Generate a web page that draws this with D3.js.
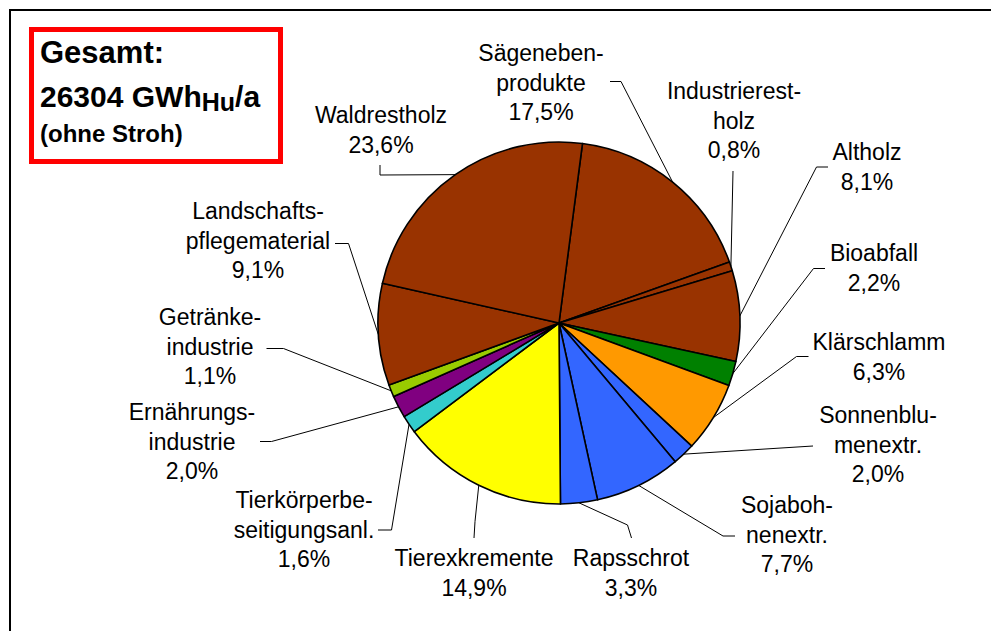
<!DOCTYPE html>
<html lang="de">
<head>
    <meta charset="UTF-8">
    <title>Biomassepotenzial</title>
    <script src="https://d3js.org/d3.v7.min.js"></script>
    <style>
        body { margin: 0; background: #fff; }
        svg { display: block; font-family: "Liberation Sans", Arial, sans-serif; }
        .lbl { font-size: 23px; text-anchor: middle; fill: #000; }
        .box-text { font-weight: bold; fill: #000; }
        .leader { fill: none; stroke: #000; stroke-width: 1; }
    </style>
</head>
<body>
    <svg width="991" height="631"></svg>
    <script>
        // Anteile am Gesamtpotenzial (%), im Uhrzeigersinn ab oben
        const categories = ["Sägenebenprodukte", "Industrierestholz", "Altholz", "Bioabfall",
            "Klärschlamm", "Sonnenblumenextr.", "Sojabohnenextr.", "Rapsschrot", "Tierexkremente",
            "Tierkörperbeseitigungsanl.", "Ernährungsindustrie", "Getränkeindustrie",
            "Landschaftspflegematerial", "Waldrestholz"];
        const shares = [17.5, 0.8, 8.1, 2.2, 6.3, 2.0, 7.7, 3.3, 14.9, 1.6, 2.0, 1.1, 9.1, 23.6];
        const labelLines = [
            ["Sägeneben-", "produkte"], ["Industrierest-", "holz"], ["Altholz"], ["Bioabfall"],
            ["Klärschlamm"], ["Sonnenblu-", "menextr."], ["Sojaboh-", "nenextr."], ["Rapsschrot"],
            ["Tierexkremente"], ["Tierkörperbe-", "seitigungsanl."], ["Ernährungs-", "industrie"],
            ["Getränke-", "industrie"], ["Landschafts-", "pflegematerial"], ["Waldrestholz"]
        ];
        const colors = ["#993300", "#993300", "#993300", "#008000", "#FF9900", "#3366FF", "#3366FF",
            "#3366FF", "#FFFF00", "#33CCCC", "#800080", "#99CC00", "#993300", "#993300"];

        // Beschriftungslage: Mitte x, erste Grundlinie y
        const labelPos = [[541, 61], [734, 99], [867, 160], [874, 261], [879, 350], [878, 423],
            [787, 513], [631, 566], [474, 566], [304, 508], [192, 420], [210, 325], [258, 219], [381, 123]];
        // Führungslinien: Knick, Ende
        const leaderPts = [
            [[621, 81.5], [610, 81.5]], [[733, 171], [733, 171]], [[816.5, 167], [828, 167]],
            [[813.5, 268.5], [825, 268.5]], [[796.5, 356.5], [808.5, 356.5]], [[813, 446], [813, 446]],
            [[723, 536], [735, 536]], [[627.5, 525], [631.5, 538]], [[475, 521.5], [474, 538]],
            [[391.5, 530], [378, 530]], [[271.5, 441.5], [260, 441.5]], [[283.5, 348.5], [266.5, 348.5]],
            [[348.5, 243.5], [335, 243.5]], [[380, 175], [380, 165]]
        ];

        const cx = 559, cy = 323, r = 181;
        const start = 7.45 * Math.PI / 180;
        const lineH = 29.5;

        const svg = d3.select("svg");

        // Rahmen
        svg.append("rect")
            .attr("x", 10).attr("y", 10)
            .attr("width", 1000).attr("height", 700)
            .attr("fill", "none").attr("stroke", "#000").attr("stroke-width", 2);

        const pie = d3.pie().sort(null).value(d => d)
            .startAngle(start).endAngle(start + 2 * Math.PI);
        const arcs = pie(shares);
        const arc = d3.arc().innerRadius(0).outerRadius(r);
        const edge = d3.arc().innerRadius(r).outerRadius(r);

        const g = svg.append("g").attr("transform", `translate(${cx},${cy})`);
        g.selectAll("path")
            .data(arcs)
            .enter()
            .append("path")
            .attr("d", arc)
            .attr("fill", (d, i) => colors[i])
            .attr("stroke", "#000")
            .attr("stroke-width", 1.6)
            .attr("stroke-linejoin", "round");

        // Führungslinien
        svg.selectAll(".leader")
            .data(arcs)
            .enter()
            .append("polyline")
            .attr("class", "leader")
            .attr("points", (d, i) => {
                const [ex, ey] = edge.centroid(d);
                const pts = [[cx + ex, cy + ey], ...leaderPts[i]];
                return pts.map(p => p.join(",")).join(" ");
            });

        // Beschriftungen
        const fmt = v => v.toFixed(1).replace(".", ",") + "%";
        shares.forEach((v, i) => {
            const t = svg.append("text").attr("class", "lbl");
            const lines = labelLines[i].concat([fmt(v)]);
            lines.forEach((s, j) => {
                t.append("tspan")
                    .attr("x", labelPos[i][0])
                    .attr("y", labelPos[i][1] + j * lineH)
                    .text(s);
            });
        });

        // Gesamt-Kasten
        svg.append("rect")
            .attr("x", 31.5).attr("y", 29.5)
            .attr("width", 249).attr("height", 132)
            .attr("fill", "#fff").attr("stroke", "#FF0000").attr("stroke-width", 5);

        svg.append("text").attr("class", "box-text")
            .attr("x", 40).attr("y", 63).style("font-size", "31px")
            .text("Gesamt:");
        const t2 = svg.append("text").attr("class", "box-text")
            .attr("x", 40).attr("y", 107).style("font-size", "30px");
        t2.append("tspan").text("26304 GWh");
        t2.append("tspan").attr("dy", 4).style("font-size", "25px").text("Hu");
        t2.append("tspan").attr("dy", -4).text("/a");
        svg.append("text").attr("class", "box-text")
            .attr("x", 40).attr("y", 142).style("font-size", "24px")
            .text("(ohne Stroh)");
    </script>
</body>
</html>
